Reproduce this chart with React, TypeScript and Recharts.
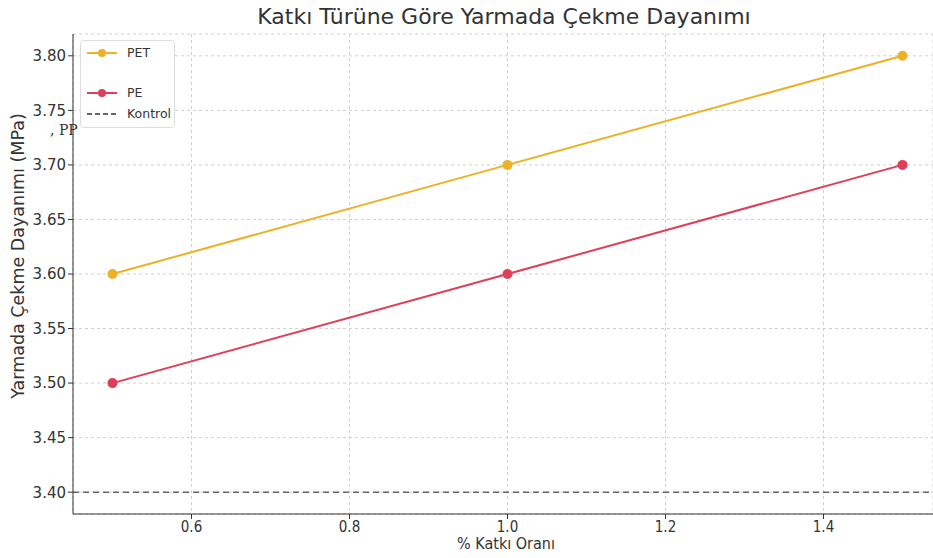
import React from "react"
import { CartesianGrid, Line, LineChart, ReferenceLine, XAxis, YAxis } from "recharts"

const katkiOrani = [0.5, 1.0, 1.5]
const petValues = [3.6, 3.7, 3.8]
const peValues = [3.5, 3.6, 3.7]
const kontrol = 3.4

const xTicks = [0.6, 0.8, 1.0, 1.2, 1.4]
const yTicks = [3.4, 3.45, 3.5, 3.55, 3.6, 3.65, 3.7, 3.75, 3.8]

const PET_COLOR = "#EDB126"
const PE_COLOR = "#DE3F5A"

const data = katkiOrani.map((x, i) => ({ x, pet: petValues[i], pe: peValues[i] }))

const tickStyle = { fill: "#333", fontSize: 15, fontFamily: "DejaVu Sans, sans-serif" }

function LegendBox() {
  const row = (label: string, color: string, top: number, dashed = false) => (
    <div style={{ position: "absolute", left: 6, top, display: "flex", alignItems: "center" }}>
      <svg width={30} height={12}>
        <line x1={0} y1={6} x2={30} y2={6} stroke={color} strokeWidth={2} strokeDasharray={dashed ? "5 3" : undefined} />
        {!dashed && <circle cx={15} cy={6} r={4} fill={color} />}
      </svg>
      <span style={{ marginLeft: 10, fontSize: 12.5, color: "#333", fontFamily: "DejaVu Sans, sans-serif" }}>{label}</span>
    </div>
  )
  return (
    <div
      style={{
        position: "absolute",
        left: 80,
        top: 40,
        width: 93,
        height: 86,
        border: "1px solid #ddd",
        borderRadius: 4,
        background: "rgba(255,255,255,0.85)",
      }}
    >
      {row("PET", PET_COLOR, 4)}
      {row("PE", PE_COLOR, 44)}
      {row("Kontrol", "#666", 65, true)}
    </div>
  )
}

export default function App() {
  return (
    <div style={{ position: "fixed", left: 0, top: 0, width: 933, height: 558, overflow: "hidden", background: "#fff" }}>
      <LineChart width={933} height={558} data={data} margin={{ top: 34, right: 0, bottom: 0, left: 0 }}>
        <CartesianGrid stroke="#d0d0d0" strokeDasharray="3 3" />
        <XAxis
          dataKey="x"
          type="number"
          domain={[0.45, 1.5386]}
          ticks={xTicks}
          tickFormatter={(v: number) => v.toFixed(1)}
          height={44}
          tick={{ ...tickStyle, fontFamily: "DejaVu Sans Condensed, DejaVu Sans, sans-serif" }}
          stroke="#333"
          tickSize={5}
          allowDataOverflow
        />
        <YAxis
          type="number"
          domain={[3.38, 3.82]}
          ticks={yTicks}
          tickFormatter={(v: number) => v.toFixed(2)}
          width={73}
          tick={tickStyle}
          stroke="#333"
          tickSize={5}
          allowDataOverflow
        />
        <ReferenceLine y={kontrol} stroke="#666" strokeWidth={1.5} strokeDasharray="6 4" />
        <Line dataKey="pet" stroke={PET_COLOR} strokeWidth={2} dot={{ r: 4, fill: PET_COLOR, stroke: PET_COLOR }} isAnimationActive={false} />
        <Line dataKey="pe" stroke={PE_COLOR} strokeWidth={2} dot={{ r: 4, fill: PE_COLOR, stroke: PE_COLOR }} isAnimationActive={false} />
      </LineChart>

      <div style={{ position: "absolute", left: 0, width: 1008, top: 4, textAlign: "center", fontSize: 22, color: "#333", fontFamily: "DejaVu Sans, sans-serif" }}>
        Katkı Türüne Göre Yarmada Çekme Dayanımı
      </div>
      <div style={{ position: "absolute", left: 0, width: 1012, top: 534, textAlign: "center", fontSize: 16, color: "#333", fontFamily: "DejaVu Sans Condensed, DejaVu Sans, sans-serif" }}>
        % Katkı Oranı
      </div>
      <div
        style={{
          position: "absolute",
          left: 18,
          top: 256,
          transform: "translate(-50%, -50%) rotate(-90deg)",
          whiteSpace: "nowrap",
          fontSize: 17.5,
          color: "#333",
          fontFamily: "DejaVu Sans, sans-serif",
        }}
      >
        Yarmada Çekme Dayanımı (MPa)
      </div>
      <LegendBox />
      <div style={{ position: "absolute", left: 50, top: 122, fontSize: 14, lineHeight: "16px", color: "#333", fontFamily: "DejaVu Serif, serif" }}>, PP</div>
    </div>
  )
}
